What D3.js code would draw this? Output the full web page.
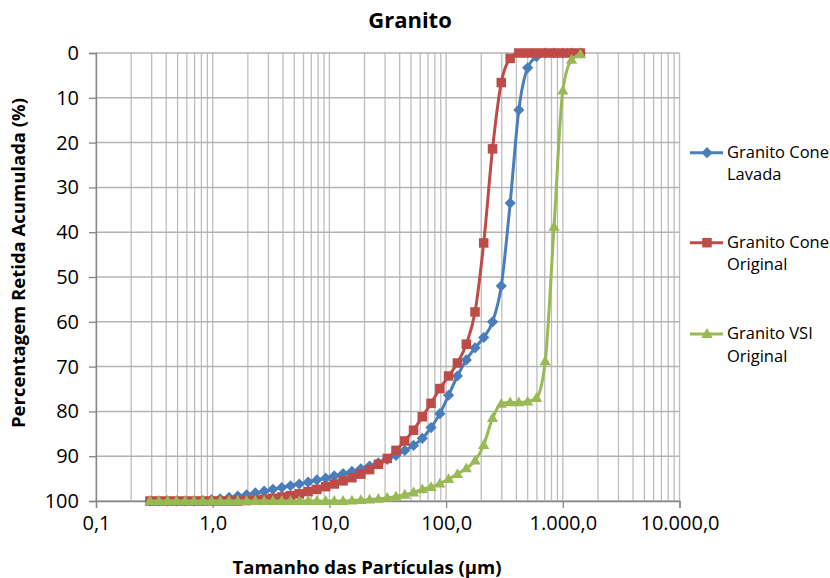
<!DOCTYPE html>
<html>
<head>
<meta charset="utf-8">
<script src="https://cdn.jsdelivr.net/npm/d3@7"></script>
<style>
  html, body { margin: 0; padding: 0; background: #fff; }
  svg { display: block; font-family: "Open Sans", "Noto Sans", sans-serif; }
</style>
</head>
<body>
<svg id="chart" width="830" height="578"></svg>
<script>
// Particle size classes (µm)
const sizes = [1414, 1189, 1000, 841, 707, 595, 500, 420, 354, 297,
  250, 210, 177, 149, 125, 105, 88.4, 74.3, 62.5, 52.6,
  44.2, 37.2, 31.3, 26.3, 22.1, 18.6, 15.6, 13.1, 11.0, 9.29,
  7.81, 6.57, 5.52, 4.64, 3.91, 3.28, 2.76, 2.32, 1.95, 1.64,
  1.38, 1.16, 0.977, 0.821, 0.691, 0.581, 0.488, 0.411, 0.345, 0.290];

// Cumulative retained percentage for each size class
const coneLavada = [0, 0, 0, 0, 0, 0.8, 3.3, 12.7, 33.5, 52.0,
  60.0, 63.5, 65.8, 68.5, 72.1, 76.4, 80.5, 83.6, 86.0, 87.6,
  88.7, 89.8, 90.7, 91.5, 92.2, 92.8, 93.4, 93.9, 94.4, 94.9,
  95.3, 95.8, 96.2, 96.6, 97.0, 97.4, 97.8, 98.2, 98.6, 98.9,
  99.2, 99.5, 99.7, 99.9, 100, 100, 100, 100, 100, 100];

const coneOriginal = [0, 0, 0, 0, 0, 0, 0, 0, 1.2, 6.6,
  21.4, 42.4, 57.8, 65.0, 69.2, 72.1, 74.9, 78.2, 81.2, 84.2,
  86.6, 88.7, 90.5, 91.8, 93.0, 94.0, 94.8, 95.5, 96.2, 96.8,
  97.4, 97.9, 98.4, 98.8, 99.1, 99.4, 99.6, 99.8, 99.9, 100,
  100, 100, 100, 100, 100, 100, 100, 100, 100, 100];

const vsiOriginal = [0.3, 1.5, 8.4, 38.8, 68.8, 77.0, 77.8, 78.0, 78.0, 78.3,
  81.5, 87.5, 91.0, 92.7, 94.0, 95.1, 96.1, 96.9, 97.4, 98.1,
  98.6, 99.0, 99.3, 99.5, 99.7, 99.8, 99.9, 100, 100, 100,
  100, 100, 100, 100, 100, 100, 100, 100, 100, 100,
  100, 100, 100, 100, 100, 100, 100, 100, 100, 100];

const seriesNames = ["Granito Cone Lavada", "Granito Cone Original", "Granito VSI Original"];
const legendLines = [["Granito Cone", "Lavada"], ["Granito Cone", "Original"], ["Granito VSI", "Original"]];
const seriesColors = ["#4A7EBB", "#BE4B48", "#98B954"];
const seriesMarkers = ["diamond", "square", "triangle"];

const xTickValues = [0.1, 1, 10, 100, 1000, 10000];
const xTickLabels = ["0,1", "1,0", "10,0", "100,0", "1.000,0", "10.000,0"];
const yTickValues = [0, 10, 20, 30, 40, 50, 60, 70, 80, 90, 100];

const titleText = "Granito";
const xTitle = "Tamanho das Partículas (µm)";
const yTitle = "Percentagem Retida Acumulada (%)";

const plot = { left: 96, right: 679.5, top: 53, bottom: 501 };

const svg = d3.select("#chart");

const x = d3.scaleLog().domain([0.1, 10000]).range([plot.left, plot.right]);
const y = d3.scaleLinear().domain([0, 100]).range([plot.top, plot.bottom]);

// Gridlines: minor log decades vertically, every 10 % horizontally
const minorX = [];
for (let e = -1; e < 4; e++) {
  for (let m = 1; m <= 9; m++) minorX.push(m * Math.pow(10, e));
}
minorX.push(10000);

const grid = svg.append("g");
grid.selectAll("line.v").data(minorX).join("line")
  .attr("x1", d => x(d)).attr("x2", d => x(d))
  .attr("y1", plot.top).attr("y2", plot.bottom)
  .attr("stroke", "#BDBDBD").attr("stroke-width", 1.3);
grid.selectAll("line.h").data(yTickValues).join("line")
  .attr("x1", plot.left).attr("x2", plot.right)
  .attr("y1", d => y(d)).attr("y2", d => y(d))
  .attr("stroke", "#B4B4B4").attr("stroke-width", 1.5);

// Axes
const xAxis = d3.axisBottom(x).tickValues(xTickValues)
  .tickFormat((d, i) => xTickLabels[i]).tickSize(7).tickPadding(8);
const gx = svg.append("g").attr("transform", `translate(0,${plot.bottom})`).call(xAxis);
gx.select(".domain").attr("stroke", "#868686").attr("stroke-width", 1.3);
gx.selectAll(".tick line").attr("stroke", "#868686").attr("stroke-width", 1.3);
gx.selectAll(".tick text").attr("font-size", 20).attr("fill", "#000")
  .attr("font-family", "'Open Sans', sans-serif");

const yAxis = d3.axisLeft(y).tickValues(yTickValues).tickSize(7).tickPadding(10);
const gy = svg.append("g").attr("transform", `translate(${plot.left},0)`).call(yAxis);
gy.select(".domain").attr("stroke", "#868686").attr("stroke-width", 1.3);
gy.selectAll(".tick line").attr("stroke", "#868686").attr("stroke-width", 1.3);
gy.selectAll(".tick text").attr("font-size", 20).attr("fill", "#000")
  .attr("font-family", "'Open Sans', sans-serif");

// Marker shapes
function markerPath(type, s) {
  if (type === "diamond") return `M0,${-s}L${s},0L0,${s}L${-s},0Z`;
  if (type === "square") return `M${-s * 0.85},${-s * 0.85}H${s * 0.85}V${s * 0.85}H${-s * 0.85}Z`;
  return `M0,${-s * 1.05}L${s},${s * 0.7}L${-s},${s * 0.7}Z`;
}

const allSeries = [coneLavada, coneOriginal, vsiOriginal];
const line = d3.line()
  .x(d => x(d.size)).y(d => y(d.value))
  .curve(d3.curveMonotoneX);

allSeries.forEach((vals, si) => {
  const pts = sizes.map((s, i) => ({ size: s, value: vals[i] }))
    .sort((a, b) => a.size - b.size);
  const g = svg.append("g");
  g.append("path").datum(pts)
    .attr("d", line).attr("fill", "none")
    .attr("stroke", seriesColors[si]).attr("stroke-width", 3)
    .attr("stroke-linejoin", "round");
  g.selectAll("path.m").data(pts).join("path")
    .attr("class", "m")
    .attr("transform", d => `translate(${x(d.size)},${y(d.value)})`)
    .attr("d", markerPath(seriesMarkers[si], 5.6))
    .attr("fill", seriesColors[si]);
});

// Titles
svg.append("text").attr("x", 410).attr("y", 28)
  .attr("text-anchor", "middle").attr("font-size", 22).attr("font-weight", "bold")
  .attr("fill", "#000").text(titleText);

svg.append("text").attr("x", 367).attr("y", 574)
  .attr("text-anchor", "middle").attr("font-size", 18.5).attr("font-weight", "bold")
  .attr("fill", "#000").text(xTitle);

svg.append("text").attr("transform", "translate(25,263) rotate(-90)")
  .attr("text-anchor", "middle").attr("font-size", 18.5).attr("font-weight", "bold")
  .attr("fill", "#000").text(yTitle);

// Legend
const legendY = [152.7, 242.7, 334];
legendLines.forEach((lines, si) => {
  const g = svg.append("g").attr("transform", `translate(0,${legendY[si]})`);
  g.append("line").attr("x1", 690).attr("x2", 723).attr("y1", 0).attr("y2", 0)
    .attr("stroke", seriesColors[si]).attr("stroke-width", 3);
  g.append("path").attr("transform", "translate(707,0)")
    .attr("d", markerPath(seriesMarkers[si], 5.6)).attr("fill", seriesColors[si]);
  lines.forEach((t, li) => {
    g.append("text").attr("x", 727).attr("y", 5 + li * 22.5)
      .attr("font-size", 16.5).attr("fill", "#000").text(t);
  });
});
</script>
</body>
</html>
